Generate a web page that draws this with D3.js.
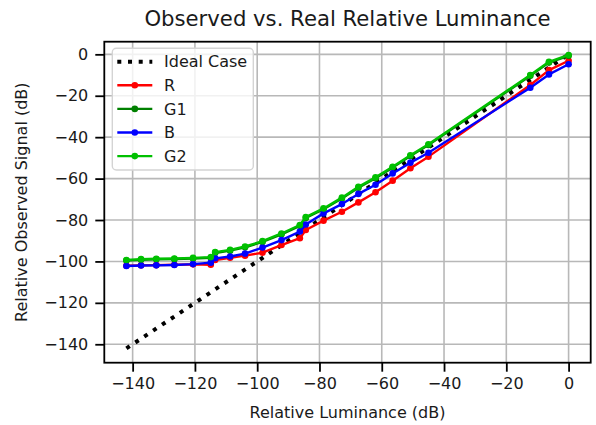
<!DOCTYPE html>
<html>
<head>
<meta charset="utf-8">
<script src="https://cdn.jsdelivr.net/npm/d3@7"></script>
<style>
  html, body { margin: 0; padding: 0; background: #ffffff; }
  svg { display: block; font-family: "DejaVu Sans", sans-serif; }
</style>
</head>
<body>
<svg id="chart" width="596" height="425"></svg>
<script>
// Relative luminance steps (dB), shared by every channel
const luminance = [-142.0, -137.3, -132.4, -126.6, -120.6, -114.9, -113.5, -108.7, -103.9, -98.3,
                   -92.2, -86.3, -84.4, -78.7, -72.8, -67.5, -62.0, -56.5, -50.8, -45.0,
                   -12.3, -6.3, 0.0];

// Observed signal per colour channel (dB)
const seriesR  = [-102.1, -101.9, -101.8, -101.6, -101.4, -101.6, -99.3, -98.2, -97.2, -95.8,
                  -92.1, -88.8, -84.8, -80.3, -76.0, -71.5, -66.6, -61.0, -55.0, -49.4,
                  -14.8, -7.6, -3.1];
const seriesG1 = [-99.6, -99.2, -99.0, -98.9, -98.6, -98.2, -95.9, -94.8, -93.2, -90.6,
                  -86.9, -82.8, -79.0, -74.8, -69.6, -64.4, -59.8, -54.7, -49.1, -43.8,
                  -10.4, -4.0, -0.7];
const seriesB  = [-102.2, -102.0, -101.9, -101.7, -101.3, -100.6, -98.5, -97.6, -96.2, -93.3,
                  -89.7, -85.6, -82.2, -76.8, -72.3, -67.4, -63.0, -57.5, -52.3, -47.5,
                  -16.1, -9.7, -4.8];
const seriesG2 = [-99.3, -98.9, -98.7, -98.6, -98.3, -97.9, -95.5, -94.4, -92.8, -90.2,
                  -86.5, -82.4, -78.6, -74.4, -69.2, -64.0, -59.4, -54.3, -48.7, -43.4,
                  -10.0, -3.6, -0.3];

// Ideal response: observed equals real luminance
const idealX = [-142, 0];
const idealY = [-142, 0];

const seriesNames  = ["R", "G1", "B", "G2"];
const seriesValues = [seriesR, seriesG1, seriesB, seriesG2];
const seriesColors = ["#ff0000", "#008000", "#0000ff", "#00c000"];

const xTicks = [-140, -120, -100, -80, -60, -40, -20, 0];
const yTicks = [-140, -120, -100, -80, -60, -40, -20, 0];

const titleText = "Observed vs. Real Relative Luminance";
const xLabel = "Relative Luminance (dB)";
const yLabel = "Relative Observed Signal (dB)";

// ---- layout ----
const plot = { left: 104.3, right: 590.7, top: 41.7, bottom: 362.7 };
const fontSize = 16;

const svg = d3.select("#chart");
svg.append("rect").attr("width", 596).attr("height", 425).attr("fill", "#ffffff");

const x = d3.scaleLinear().domain([-149.1, 7.1]).range([plot.left, plot.right]);
const y = d3.scaleLinear().domain([-148.9, 6.1]).range([plot.bottom, plot.top]);

const fmt = d => (d < 0 ? "\u2212" + Math.abs(d) : String(d));

// grid
const grid = svg.append("g").attr("stroke", "#b8b8b8").attr("stroke-width", 1.6);
grid.selectAll("line.vx").data(xTicks).join("line")
  .attr("x1", d => x(d)).attr("x2", d => x(d))
  .attr("y1", plot.top).attr("y2", plot.bottom);
grid.selectAll("line.hy").data(yTicks).join("line")
  .attr("y1", d => y(d)).attr("y2", d => y(d))
  .attr("x1", plot.left).attr("x2", plot.right);

// axes
const xAxis = svg.append("g")
  .attr("transform", `translate(0,${plot.bottom})`)
  .call(d3.axisBottom(x).tickValues(xTicks).tickFormat(fmt).tickSize(9).tickPadding(6));
const yAxis = svg.append("g")
  .attr("transform", `translate(${plot.left},0)`)
  .call(d3.axisLeft(y).tickValues(yTicks).tickFormat(fmt).tickSize(9).tickPadding(7));

[xAxis, yAxis].forEach(a => {
  a.select(".domain").remove();
  a.selectAll(".tick line").attr("stroke", "#000").attr("stroke-width", 1.8);
  a.selectAll(".tick text").attr("fill", "#1a1a1a").style("font-size", fontSize + "px")
    .style("font-family", "DejaVu Sans, sans-serif");
});

// clip for data
svg.append("clipPath").attr("id", "clip").append("rect")
  .attr("x", plot.left).attr("y", plot.top)
  .attr("width", plot.right - plot.left).attr("height", plot.bottom - plot.top);
const data = svg.append("g").attr("clip-path", "url(#clip)");

// ideal dotted line
const idealPts = idealX.map((v, i) => [v, idealY[i]]);
data.append("path")
  .attr("d", d3.line().x(d => x(d[0])).y(d => y(d[1]))(idealPts))
  .attr("fill", "none").attr("stroke", "#000").attr("stroke-width", 4)
  .attr("stroke-dasharray", "4 6.7");

// channel series
const line = d3.line().x(d => x(d[0])).y(d => y(d[1]));
seriesValues.forEach((vals, i) => {
  const pts = luminance.map((v, j) => [v, vals[j]]);
  const g = data.append("g");
  g.append("path").attr("d", line(pts)).attr("fill", "none")
    .attr("stroke", seriesColors[i]).attr("stroke-width", 2.4)
    .attr("stroke-linejoin", "round");
  g.selectAll("circle").data(pts).join("circle")
    .attr("cx", d => x(d[0])).attr("cy", d => y(d[1])).attr("r", 3.3)
    .attr("fill", seriesColors[i]);
});

// frame
svg.append("rect")
  .attr("x", plot.left).attr("y", plot.top)
  .attr("width", plot.right - plot.left).attr("height", plot.bottom - plot.top)
  .attr("fill", "none").attr("stroke", "#000").attr("stroke-width", 1.8);

// title and axis labels
svg.append("text").attr("x", (plot.left + plot.right) / 2).attr("y", 26)
  .attr("text-anchor", "middle").style("font-size", "21.2px").attr("fill", "#1a1a1a")
  .text(titleText);
svg.append("text").attr("x", (plot.left + plot.right) / 2).attr("y", 418)
  .attr("text-anchor", "middle").style("font-size", fontSize + "px").attr("fill", "#1a1a1a")
  .text(xLabel);
svg.append("text")
  .attr("transform", `translate(27,${(plot.top + plot.bottom) / 2}) rotate(-90)`)
  .attr("text-anchor", "middle").style("font-size", fontSize + "px").attr("fill", "#1a1a1a")
  .text(yLabel);

// legend
const legend = svg.append("g");
legend.append("rect").attr("x", 112.3).attr("y", 48.3).attr("width", 141).attr("height", 121.7)
  .attr("rx", 4).attr("fill", "#ffffff").attr("fill-opacity", 0.8)
  .attr("stroke", "#d4d4d4").attr("stroke-width", 1.4);
const legendItems = [{ name: "Ideal Case", color: "#000", dotted: true }]
  .concat(seriesNames.map((n, i) => ({ name: n, color: seriesColors[i], dotted: false })));
legendItems.forEach((it, i) => {
  const cy = 61.7 + i * 23.6;
  const row = legend.append("g");
  if (it.dotted) {
    row.append("line").attr("x1", 117.3).attr("x2", 152.3).attr("y1", cy).attr("y2", cy)
      .attr("stroke", "#000").attr("stroke-width", 4).attr("stroke-dasharray", "4 6.7");
  } else {
    row.append("line").attr("x1", 117.3).attr("x2", 152.3).attr("y1", cy).attr("y2", cy)
      .attr("stroke", it.color).attr("stroke-width", 2.4);
    row.append("circle").attr("cx", 134.8).attr("cy", cy).attr("r", 3.3).attr("fill", it.color);
  }
  row.append("text").attr("x", 164).attr("y", cy).attr("dy", "0.36em")
    .style("font-size", fontSize + "px").attr("fill", "#1a1a1a").text(it.name);
});
</script>
</body>
</html>
